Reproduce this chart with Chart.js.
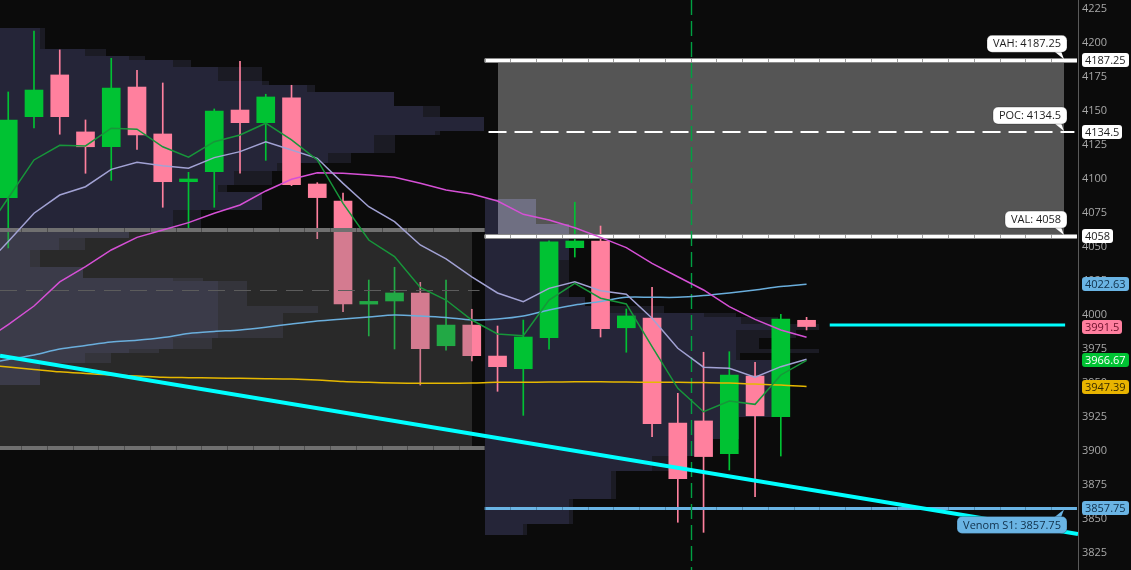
<!DOCTYPE html>
<html>
<head>
<meta charset="utf-8">
<script src="https://cdn.jsdelivr.net/npm/chart.js@4.4.1/dist/chart.umd.min.js"></script>
<style>
  html, body { margin: 0; padding: 0; background: #0b0b0b; overflow: hidden; }
  #wrap { width: 1131px; height: 570px; }
</style>
</head>
<body>
<div id="wrap"><canvas id="chart"></canvas></div>
<script>
// candles, index 0..31
const opens  = [4086.3, 4145.8, 4176.5, 4134.6, 4123.7, 4167.6, 4133.1, 4098, 4105.4, 4150.7, 4141.4, 4159.6, 4096.3, 4083.8, 4008, 4010.3, 4016.2, 3977.4, 3992.6, 3969.8, 3960.5, 3983.3, 4049.5, 4054.4, 3990.6, 3997.8, 3920.6, 3922.1, 3898, 3955.1, 3925.2, 3996.1];
const highs  = [4164, 4208.8, 4194.9, 4143.4, 4188.7, 4179.9, 4170.6, 4104.9, 4151.5, 4186.5, 4162.3, 4168.9, 4097.3, 4089.7, 4025.7, 4035.1, 4024, 4025.7, 4004.2, 3991.9, 3996.3, 4054.5, 4082.9, 4065.4, 4004.4, 4020.4, 3942.4, 3972.6, 3973, 3965.2, 4000.5, 3998.3];
const lows   = [4049.3, 4137.5, 4132.9, 4104.2, 4099, 4121.8, 4079.2, 4063.7, 4079.2, 4104.2, 4113.7, 4095.1, 4056.1, 4002.4, 3984.6, 3975, 3948.5, 3974.2, 3966.2, 3943.9, 3926.2, 3974.8, 4042.6, 3983.8, 3972.6, 3910.5, 3847.6, 3840.2, 3886, 3866.4, 3896.3, 3989];
const closes = [4143.4, 4165.4, 4145.8, 4123.7, 4166.9, 4132.4, 4098, 4100, 4150, 4141.4, 4160.3, 4095.8, 4086.3, 4008.1, 4010, 4016.2, 3975.2, 3992.6, 3970.1, 3962, 3983.8, 4053.7, 4054.4, 3990, 3999.3, 3920, 3879.6, 3895.9, 3955.9, 3925.9, 3997, 3991.5];

// moving averages, index -1..31 (first value is the bar just left of the window)
const maFast  = [4058, 4086, 4114, 4124.8, 4124.3, 4137.3, 4136.6, 4123.7, 4116, 4127.4, 4132.4, 4141, 4128.7, 4114, 4082.1, 4055.1, 4042.9, 4020.2, 4011, 3996.3, 3986, 3984.8, 4011, 4023.3, 4012.3, 4008.1, 3976.7, 3946.1, 3928.9, 3936.8, 3934.3, 3955.9, 3966.67];
const maMid   = [4034, 4054, 4074.8, 4088.2, 4094.3, 4107.1, 4112.3, 4109.8, 4107.9, 4115.7, 4120.1, 4127.4, 4121.3, 4115.2, 4096.8, 4079.6, 4068.6, 4051.5, 4041.2, 4028.1, 4016.2, 4009.8, 4019.6, 4024.5, 4017.9, 4015.2, 3997.6, 3975.5, 3961.6, 3960.8, 3954.2, 3962, 3967.4];
const maSlow  = [3980, 3993, 4006.6, 4024.3, 4035.5, 4047.8, 4057.1, 4062.5, 4067.9, 4074.8, 4080.9, 4091.2, 4099.8, 4104.6, 4104.2, 4102.9, 4101.2, 4096.8, 4091.9, 4089, 4083.8, 4074, 4069.9, 4064.2, 4057.1, 4049.5, 4038, 4028.1, 4018.4, 4006.1, 3996.8, 3989, 3983.6];
const maLong  = [3964, 3967.3, 3970.6, 3975, 3977.6, 3980.1, 3981.4, 3983.4, 3986.4, 3987.9, 3989, 3991, 3993.4, 3995.6, 3997.1, 3998.5, 4000, 3999.3, 3998.2, 3996.3, 3997.1, 3999.3, 4003.7, 4007.3, 4009.9, 4013, 4013, 4013, 4014.3, 4016.2, 4018.4, 4020.9, 4022.63];
const maGold  = [3963.2, 3961.8, 3960, 3958.2, 3957, 3955.9, 3955.2, 3954.2, 3953.9, 3953.7, 3953.4, 3953.2, 3952.9, 3952.2, 3951.1, 3950.5, 3950, 3949.8, 3949.8, 3950, 3950.5, 3950.5, 3950.7, 3950.9, 3950.9, 3950.7, 3950.5, 3950.5, 3950.3, 3950, 3949.2, 3948.5, 3947.39];

// drawn lines (bar index, price)
const trendLine = [[-0.32, 3970], [41.54, 3839]];
const lastLine  = [[31.9, 3992.6], [41.04, 3992.6]];

// value areas
const priorLevels = [4062.5, 4018.2, 3902];       // VAH, POC, VAL of prior session
const levelNames  = ['VAH', 'POC', 'VAL'];
const levelValues = [4187.25, 4134.5, 4058];
const s1Value = 3857.75;
const sessionSplit = 18.5;
const newsBar = 26.5;

// volume profiles: [price high, price low, volume, volume incl. outside part]
const priorProfile = [
  [4211.0, 4195.6, 40, 45], [4195.6, 4190.4, 85, 106], [4190.4, 4187.5, 129, 145],
  [4187.5, 4182.4, 173, 191], [4182.4, 4172.1, 218, 262], [4172.1, 4169.1, 262, 269],
  [4169.1, 4164.0, 307, 315], [4164.0, 4153.7, 394, 394], [4153.7, 4145.6, 423, 440],
  [4145.6, 4135.3, 484, 484], [4135.3, 4132.4, 435, 440], [4132.4, 4119.1, 374, 395],
  [4119.1, 4111.8, 328, 351], [4111.8, 4105.9, 277, 300], [4105.9, 4095.6, 234, 272],
  [4095.6, 4090.4, 218, 227], [4090.4, 4077.2, 262, 262], [4077.2, 4061.0, 173, 201],
  [4061.0, 4056.6, 129, 129], [4056.6, 4047.8, 59, 85], [4047.8, 4035.3, 30, 40],
  [4035.3, 4027.2, 83, 83], [4027.2, 4025.0, 173, 203], [4025.0, 4006.6, 218, 247],
  [4006.6, 4001.5, 218, 318], [4001.5, 3983.1, 218, 283], [3983.1, 3975.0, 173, 212],
  [3975.0, 3972.0, 129, 159], [3972.0, 3964.7, 85, 111], [3964.7, 3948.5, 40, 40]
];
const currentProfile = [
  [4085.3, 4066.9, 51, 51], [4066.9, 4058.1, 84, 84], [4058.1, 4040.4, 84, 84],
  [4040.4, 4013.2, 74, 84], [4013.2, 4006.6, 100, 100], [4006.6, 4001.5, 125, 179],
  [4001.5, 3998.5, 219, 251], [3998.5, 3993.4, 256, 293], [3993.4, 3989.0, 305, 334],
  [3989.0, 3983.1, 251, 311], [3983.1, 3975.0, 251, 274], [3975.0, 3972.0, 251, 334],
  [3972.0, 3966.9, 251, 255], [3966.9, 3925.0, 287, 287], [3925.0, 3908.8, 254, 254],
  [3908.8, 3896.3, 228, 228], [3896.3, 3885.3, 167, 202], [3885.3, 3864.7, 126, 131],
  [3864.7, 3846.3, 84, 88], [3846.3, 3838.2, 38, 42]
];
const VOL_PER_BAR = 25.75;

// right axis price tags
const tagValues = [4187.25, 4134.5, 4058, 4022.63, 3991.5, 3966.67, 3947.39, 3857.75];

// ---- styles ----
const X_MIN = -0.32, X_MAX = 41.54, Y_MIN = 3812.5, Y_MAX = 4231.6;
const UP = '#00c233', DOWN = '#ff809e';
const FONT = '"Open Sans", "DejaVu Sans", sans-serif';
const tagFills = ['#ffffff', '#ffffff', '#ffffff', '#6ab4e4', '#ff7f9f', '#00c233', '#e8b400', '#6ab4e4'];
const tagInks  = ['#1e1e1e', '#1e1e1e', '#1e1e1e', '#10304a', '#6a0f2a', '#ffffff', '#3a2c00', '#10304a'];

const idx = opens.map((_, i) => i);
const candleColors = idx.map(i => closes[i] >= opens[i] ? UP : DOWN);
const maPoints = arr => arr.map((v, i) => ({ x: i - 1, y: v }));
const pairPoints = arr => arr.map(([x, y]) => ({ x, y }));

function levelLine(ctx, chart, value, v0, v1, color, width, sepColor, edgeColor) {
  const xs = chart.scales.x, ys = chart.scales.y;
  const y = Math.round(ys.getPixelForValue(value)) + (width % 2 ? 0.5 : 0);
  const x0 = xs.getPixelForValue(v0), x1 = xs.getPixelForValue(v1);
  ctx.save();
  if (edgeColor) {
    ctx.strokeStyle = edgeColor;
    ctx.lineWidth = width + 2;
    ctx.beginPath(); ctx.moveTo(x0, y); ctx.lineTo(x1, y); ctx.stroke();
  }
  ctx.strokeStyle = color;
  ctx.lineWidth = width;
  ctx.beginPath(); ctx.moveTo(x0, y); ctx.lineTo(x1, y); ctx.stroke();
  ctx.strokeStyle = sepColor;
  ctx.lineWidth = 1;
  for (let k = Math.ceil(v0 - 0.5) + 0.5; k < v1; k++) {
    const sx = Math.round(xs.getPixelForValue(k)) + 0.5;
    ctx.beginPath(); ctx.moveTo(sx, y - width / 2); ctx.lineTo(sx, y + width / 2); ctx.stroke();
  }
  ctx.restore();
}

function dashedLine(ctx, chart, value, v0, v1, color, width, dash) {
  const xs = chart.scales.x, ys = chart.scales.y;
  const y = Math.round(ys.getPixelForValue(value)) + (width % 2 ? 0.5 : 0);
  ctx.save();
  ctx.strokeStyle = color; ctx.lineWidth = width; ctx.setLineDash(dash);
  ctx.beginPath();
  ctx.moveTo(xs.getPixelForValue(v0), y);
  ctx.lineTo(xs.getPixelForValue(v1), y);
  ctx.stroke();
  ctx.restore();
}

function drawProfile(ctx, chart, rows, startValue) {
  const xs = chart.scales.x, ys = chart.scales.y;
  const x0 = Math.round(xs.getPixelForValue(startValue));
  const unit = xs.getPixelForValue(1) - xs.getPixelForValue(0);
  ctx.save();
  ctx.globalCompositeOperation = 'lighter';
  rows.forEach(([hi, lo, vol, total]) => {
    const top = Math.round(ys.getPixelForValue(hi));
    const bot = Math.round(ys.getPixelForValue(lo));
    const wMain = Math.round(vol / VOL_PER_BAR * unit);
    const wAll = Math.round(total / VOL_PER_BAR * unit);
    ctx.fillStyle = 'rgb(26,26,45)';
    ctx.fillRect(x0, top, wMain, bot - top);
    if (wAll > wMain) {
      ctx.fillStyle = 'rgb(16,16,25)';
      ctx.fillRect(x0 + wMain, top, wAll - wMain, bot - top);
    }
  });
  ctx.restore();
}

function roundRect(ctx, x, y, w, h, r) {
  ctx.beginPath();
  ctx.moveTo(x + r, y);
  ctx.arcTo(x + w, y, x + w, y + h, r);
  ctx.arcTo(x + w, y + h, x, y + h, r);
  ctx.arcTo(x, y + h, x, y, r);
  ctx.arcTo(x, y, x + w, y, r);
  ctx.closePath();
}

function callout(ctx, text, xRight, yLine, above, fill, ink) {
  ctx.save();
  ctx.font = '11px ' + FONT;
  const w = Math.round(ctx.measureText(text).width) + 12, h = 17;
  const x = xRight - w;
  const y = above ? yLine - 8 - h : yLine + 8;
  ctx.fillStyle = fill;
  ctx.beginPath();
  if (above) {
    ctx.moveTo(xRight - 13, y + h - 1); ctx.lineTo(xRight - 6, y + h - 1); ctx.lineTo(xRight - 3, yLine - 1);
  } else {
    ctx.moveTo(xRight - 13, y + 1); ctx.lineTo(xRight - 6, y + 1); ctx.lineTo(xRight - 3, yLine + 1);
  }
  ctx.closePath(); ctx.fill();
  roundRect(ctx, x, y, w, h, 5);
  ctx.fill();
  ctx.strokeStyle = 'rgba(0,0,0,0.25)'; ctx.lineWidth = 1; ctx.stroke();
  ctx.fillStyle = ink;
  ctx.textAlign = 'center'; ctx.textBaseline = 'middle';
  ctx.fillText(text, x + w / 2, y + h / 2 + 0.5);
  ctx.restore();
}

const sessionPlugin = {
  id: 'session',
  beforeDraw(chart) {
    const ctx = chart.ctx;
    ctx.save();
    ctx.fillStyle = '#0b0b0b';
    ctx.fillRect(0, 0, chart.width, chart.height);
    ctx.restore();
  },
  beforeDatasetsDraw(chart) {
    const ctx = chart.ctx, xs = chart.scales.x, ys = chart.scales.y;
    // current value area box
    const bx0 = Math.round(xs.getPixelForValue(19)), bx1 = Math.round(xs.getPixelForValue(41));
    const by0 = Math.round(ys.getPixelForValue(levelValues[0])), by1 = Math.round(ys.getPixelForValue(levelValues[2]));
    ctx.save();
    ctx.fillStyle = '#555555';
    ctx.fillRect(bx0, by0, bx1 - bx0, by1 - by0);
    ctx.restore();
    drawProfile(ctx, chart, priorProfile, X_MIN);
    drawProfile(ctx, chart, currentProfile, sessionSplit);
  },
  afterDatasetDraw(chart, args) {
    if (chart.data.datasets[args.index].label !== 'Bodies') return;
    const ctx = chart.ctx, xs = chart.scales.x, ys = chart.scales.y;
    // prior value area shade over candles
    const px0 = Math.round(xs.getPixelForValue(X_MIN)), px1 = Math.round(xs.getPixelForValue(18));
    const py0 = Math.round(ys.getPixelForValue(priorLevels[0])), py1 = Math.round(ys.getPixelForValue(priorLevels[2]));
    ctx.save();
    ctx.fillStyle = 'rgba(113,113,113,0.30)';
    ctx.fillRect(px0, py0, px1 - px0, py1 - py0);
    ctx.restore();

    dashedLine(ctx, chart, priorLevels[1], X_MIN, 18.3, '#5c5c5c', 1, [17, 9]);
    levelLine(ctx, chart, priorLevels[0], X_MIN, sessionSplit, '#707070', 4, '#4e4e4e');
    levelLine(ctx, chart, priorLevels[2], X_MIN, sessionSplit, '#707070', 4, '#4e4e4e');

    dashedLine(ctx, chart, levelValues[1], 18.65, 41.4, '#ffffff', 2, [18, 8]);
    levelLine(ctx, chart, levelValues[0], sessionSplit, 41.5, '#ffffff', 3, '#a0a0a0', '#8a8a8a');
    levelLine(ctx, chart, levelValues[2], sessionSplit, 41.5, '#ffffff', 3, '#a0a0a0', '#8a8a8a');
    levelLine(ctx, chart, s1Value, sessionSplit, 41.5, '#6ab4e4', 3, '#4a88b0');

    // vertical dashed marker
    const vx = Math.round(xs.getPixelForValue(newsBar)) + 0.5;
    ctx.save();
    ctx.strokeStyle = '#00a043'; ctx.lineWidth = 1.4; ctx.setLineDash([15, 6]);
    ctx.beginPath(); ctx.moveTo(vx, chart.chartArea.top); ctx.lineTo(vx, chart.chartArea.bottom); ctx.stroke();
    ctx.restore();
  },
  afterDraw(chart) {
    const ctx = chart.ctx, xs = chart.scales.x, ys = chart.scales.y;
    const area = chart.chartArea;
    ctx.save();
    ctx.strokeStyle = '#5a5a5a'; ctx.lineWidth = 1;
    ctx.beginPath(); ctx.moveTo(Math.round(area.right) + 0.5, 0); ctx.lineTo(Math.round(area.right) + 0.5, chart.height); ctx.stroke();
    ctx.restore();

    const cx = Math.round(xs.getPixelForValue(41)) + 3;
    levelNames.forEach((name, i) => {
      callout(ctx, name + ': ' + levelValues[i], cx, ys.getPixelForValue(levelValues[i]), true, '#ffffff', '#1e1e1e');
    });
    callout(ctx, 'Venom S1: ' + s1Value, cx, ys.getPixelForValue(s1Value), false, '#6ab4e4', '#10304a');

    ctx.save();
    ctx.font = '11px ' + FONT;
    ctx.textBaseline = 'middle';
    tagValues.forEach((v, i) => {
      const text = String(v);
      const w = Math.round(ctx.measureText(text).width) + 6, h = 14;
      const y = Math.round(ys.getPixelForValue(v)) - h / 2;
      const x = Math.round(area.right) + 4;
      ctx.fillStyle = tagFills[i];
      roundRect(ctx, x, y, w, h, 3);
      ctx.fill();
      ctx.fillStyle = tagInks[i];
      ctx.fillText(text, x + 3, y + h / 2 + 0.5);
    });
    ctx.restore();
  }
};

new Chart(document.getElementById('chart'), {
  type: 'bar',
  data: {
    datasets: [
      {
        label: 'Wicks', type: 'bar', order: 20, grouped: false,
        data: idx.map(i => ({ x: i, y: [lows[i], highs[i]] })),
        backgroundColor: candleColors, barThickness: 1, borderWidth: 0
      },
      {
        label: 'Bodies', type: 'bar', order: 19, grouped: false,
        data: idx.map(i => ({ x: i, y: [opens[i], closes[i]] })),
        backgroundColor: candleColors, barThickness: 18, borderWidth: 0
      },
      { label: 'Gold', type: 'line', order: 9, data: maPoints(maGold), borderColor: '#e6b800', borderWidth: 1.5, pointRadius: 0, tension: 0.3 },
      { label: 'Long', type: 'line', order: 8, data: maPoints(maLong), borderColor: '#6aaedc', borderWidth: 1.5, pointRadius: 0, tension: 0.3 },
      { label: 'Slow', type: 'line', order: 7, data: maPoints(maSlow), borderColor: '#d650d6', borderWidth: 1.5, pointRadius: 0, tension: 0 },
      { label: 'Mid', type: 'line', order: 6, data: maPoints(maMid), borderColor: '#a2a2d4', borderWidth: 1.5, pointRadius: 0, tension: 0 },
      { label: 'Fast', type: 'line', order: 5, data: maPoints(maFast), borderColor: '#17963a', borderWidth: 1.5, pointRadius: 0, tension: 0 },
      { label: 'Trend', type: 'line', order: 2, data: pairPoints(trendLine), borderColor: '#00ffff', borderWidth: 4, pointRadius: 0 },
      { label: 'Last', type: 'line', order: 1, data: pairPoints(lastLine), borderColor: '#00ffff', borderWidth: 3, pointRadius: 0 }
    ]
  },
  options: {
    responsive: true,
    maintainAspectRatio: false,
    animation: false,
    devicePixelRatio: 1,
    events: [],
    layout: { padding: 0 },
    plugins: { legend: { display: false }, tooltip: { enabled: false } },
    scales: {
      x: { type: 'linear', min: X_MIN, max: X_MAX, display: false, offset: false },
      y: {
        type: 'linear', position: 'right', min: Y_MIN, max: Y_MAX,
        grid: { display: false, drawTicks: false },
        border: { display: false },
        ticks: {
          stepSize: 25, includeBounds: false, color: '#a8a8a8', padding: 4,
          font: { family: FONT, size: 11 },
          callback: v => String(v)
        },
        afterFit(scale) { scale.width = 53; scale.paddingTop = 0; scale.paddingBottom = 0; }
      }
    }
  },
  plugins: [sessionPlugin]
});
</script>
</body>
</html>
